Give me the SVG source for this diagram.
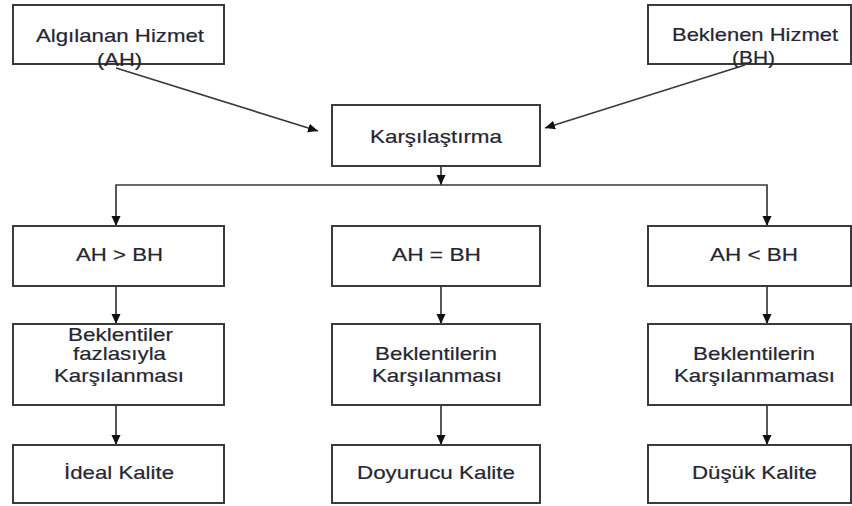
<svg xmlns="http://www.w3.org/2000/svg" width="852" height="506" viewBox="0 0 852 506">
<style>
.box{fill:#fff;stroke:#3a3a3a;stroke-width:2}
.lbl{font-family:"Liberation Sans",Arial,sans-serif;font-size:19px;fill:#262632;stroke:#262632;stroke-width:0.2}
.con{fill:none;stroke:#3a3a3a;stroke-width:1.7}
</style>
<defs>
<marker id="ah" markerUnits="userSpaceOnUse" markerWidth="10" markerHeight="10" refX="10" refY="5" orient="auto">
<path d="M0,0.5 L10,5 L0,9.5 z" fill="#111"/>
</marker>
</defs>
<rect width="852" height="506" fill="#fff"/>
<g id="connectors">
<path class="con" d="M116,68 L318,131" marker-end="url(#ah)"/>
<path class="con" d="M745,65 L545,128" marker-end="url(#ah)"/>
<path class="con" d="M441,166 V185" marker-end="url(#ah)"/>
<path class="con" d="M441,185 H116 V226" marker-end="url(#ah)"/>
<path class="con" d="M441,185 H767 V226" marker-end="url(#ah)"/>
<path class="con" d="M116,286 V324" marker-end="url(#ah)"/>
<path class="con" d="M441,286 V324" marker-end="url(#ah)"/>
<path class="con" d="M767,286 V324" marker-end="url(#ah)"/>
<path class="con" d="M116,405 V445" marker-end="url(#ah)"/>
<path class="con" d="M441,405 V445" marker-end="url(#ah)"/>
<path class="con" d="M767,405 V445" marker-end="url(#ah)"/>
</g>
<g id="ah-node">
<rect class="box" x="13" y="5" width="211" height="59"/>
<text class="lbl" x="36" y="42" textLength="168" lengthAdjust="spacingAndGlyphs">Algılanan Hizmet</text>
<text class="lbl" x="97" y="66" textLength="45" lengthAdjust="spacingAndGlyphs">(AH)</text>
</g>
<g id="bh-node">
<rect class="box" x="648" y="5" width="203" height="59"/>
<text class="lbl" x="672" y="41" textLength="166" lengthAdjust="spacingAndGlyphs">Beklenen Hizmet</text>
<text class="lbl" x="732" y="64" textLength="43" lengthAdjust="spacingAndGlyphs">(BH)</text>
</g>
<g id="karsilastirma">
<rect class="box" x="332" y="105" width="208" height="61"/>
<text class="lbl" x="370" y="143" textLength="132" lengthAdjust="spacingAndGlyphs">Karşılaştırma</text>
</g>
<g id="ah-gt-bh">
<rect class="box" x="13" y="226" width="211" height="60"/>
<text class="lbl" x="76" y="261" textLength="87" lengthAdjust="spacingAndGlyphs">AH &gt; BH</text>
</g>
<g id="ah-eq-bh">
<rect class="box" x="332" y="226" width="208" height="60"/>
<text class="lbl" x="392" y="261" textLength="89" lengthAdjust="spacingAndGlyphs">AH = BH</text>
</g>
<g id="ah-lt-bh">
<rect class="box" x="648" y="226" width="203" height="60"/>
<text class="lbl" x="710" y="261" textLength="88" lengthAdjust="spacingAndGlyphs">AH &lt; BH</text>
</g>
<g id="fazlasiyla">
<rect class="box" x="13" y="324" width="211" height="81"/>
<text class="lbl" x="68" y="341" textLength="105" lengthAdjust="spacingAndGlyphs">Beklentiler</text>
<text class="lbl" x="73" y="360" textLength="93" lengthAdjust="spacingAndGlyphs">fazlasıyla</text>
<text class="lbl" x="54" y="382" textLength="130" lengthAdjust="spacingAndGlyphs">Karşılanması</text>
</g>
<g id="karsilanmasi">
<rect class="box" x="332" y="324" width="208" height="81"/>
<text class="lbl" x="375" y="360" textLength="122" lengthAdjust="spacingAndGlyphs">Beklentilerin</text>
<text class="lbl" x="372" y="382" textLength="130" lengthAdjust="spacingAndGlyphs">Karşılanması</text>
</g>
<g id="karsilanmamasi">
<rect class="box" x="648" y="324" width="203" height="81"/>
<text class="lbl" x="693" y="360" textLength="122" lengthAdjust="spacingAndGlyphs">Beklentilerin</text>
<text class="lbl" x="674" y="382" textLength="161" lengthAdjust="spacingAndGlyphs">Karşılanmaması</text>
</g>
<g id="ideal">
<rect class="box" x="13" y="445" width="211" height="58"/>
<text class="lbl" x="64" y="479" textLength="110" lengthAdjust="spacingAndGlyphs">İdeal Kalite</text>
</g>
<g id="doyurucu">
<rect class="box" x="332" y="445" width="208" height="58"/>
<text class="lbl" x="357" y="479" textLength="158" lengthAdjust="spacingAndGlyphs">Doyurucu Kalite</text>
</g>
<g id="dusuk">
<rect class="box" x="648" y="445" width="203" height="58"/>
<text class="lbl" x="692" y="479" textLength="125" lengthAdjust="spacingAndGlyphs">Düşük Kalite</text>
</g>
</svg>
